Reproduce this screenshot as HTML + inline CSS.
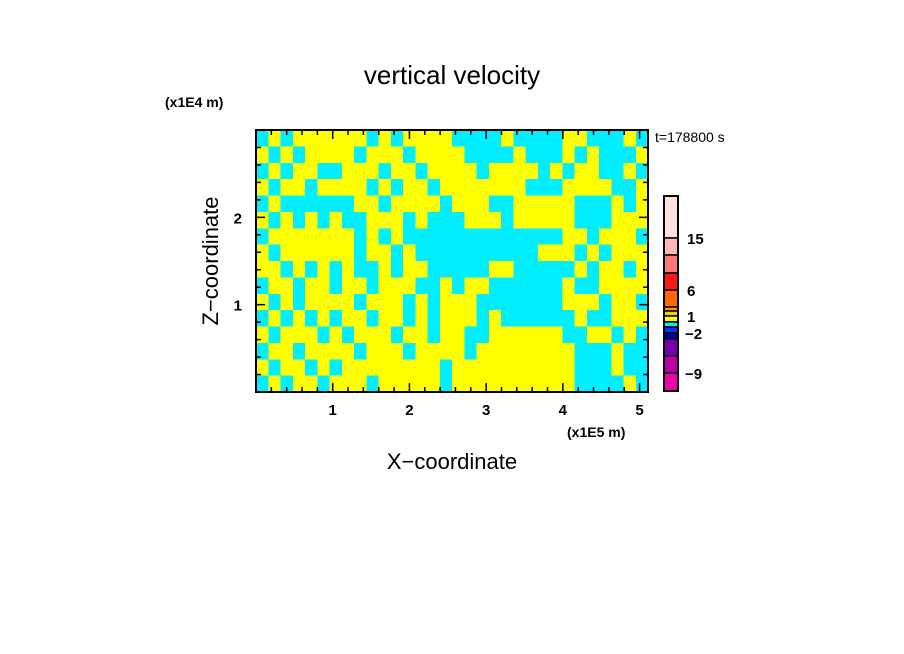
<!DOCTYPE html>
<html><head><meta charset="utf-8"><style>
html,body{margin:0;padding:0;background:#fff;}
svg{display:block;font-family:"Liberation Sans",sans-serif;}
</style></head><body>
<svg id="chart" width="904" height="654" viewBox="0 0 904 654">
<text x="452" y="84" text-anchor="middle" font-size="26">vertical velocity</text>
<text x="165" y="107" font-size="14" font-weight="bold">(x1E4 m)</text>
<text x="567" y="437" font-size="14" font-weight="bold">(x1E5 m)</text>
<text x="452" y="469" text-anchor="middle" font-size="22">X−coordinate</text>
<text transform="translate(218,261) rotate(-90)" text-anchor="middle" font-size="22">Z−coordinate</text>
<text x="655" y="142" font-size="14">t=178800 s</text>
<g id="field" shape-rendering="crispEdges"></g>
<g id="axes"></g>
<g id="cbar"></g>
</svg>
<script>
const xDomain=[0,5.11];
const yDomain=[0,3.0];
const xTicks=[1,2,3,4,5];
const yTicks=[1,2];
const fieldRows=[
"01011111101011110000100001100010",
"10101111011101111000010001010001",
"01011001110110111101111010110010",
"10110111101011011111110001111001",
"01000000110111101110011111000101",
"10101010011101000111011111000111",
"01111111010100000000000001101110",
"10111111011010000000000111010111",
"11010101001011000001100000101101",
"01101101101110010110000001001111",
"10101111011101011100000001110110",
"01010101101101011101000000100111",
"10111010111011011001111110011010",
"01101111011101111011111111000100",
"10110101111111101111111111000100",
"01011011101111101111111111000010"];
const fieldColors=["#00eeff","#ffff00"];
const cbLevels=["15","","","6","","","1","","","-2","","","-9",""];
const cbColors=["#ffe0e0","#ffb8b8","#ff7878","#ff1818","#ff6600","#ff9900","#ffcc00","#ffff00","#00eeff","#0033ff","#0000aa","#7700aa","#bb00aa","#ee00aa"];
const cbSizes=[42,17,18,17,17,4,5,6,5,6,6,17,17,18];

const NS="http://www.w3.org/2000/svg";
const PX0=256,PX1=648,PY0=130,PY1=392;
function sx(v){return PX0+(v-xDomain[0])/(xDomain[1]-xDomain[0])*(PX1-PX0);}
function sy(v){return PY1-(v-yDomain[0])/(yDomain[1]-yDomain[0])*(PY1-PY0);}
function mk(t,a){const e=document.createElementNS(NS,t);for(const k in a)e.setAttribute(k,a[k]);return e;}
const field=document.getElementById('field');
const nr=fieldRows.length,nc=fieldRows[0].length;
const cw=(PX1-PX0)/nc,ch=(PY1-PY0)/nr;
fieldRows.forEach((row,r)=>{
  for(let c=0;c<nc;c++){
    const e=mk('rect',{x:PX0+c*cw,y:PY0+r*ch,width:cw+0.5,height:ch+0.5,fill:fieldColors[+row[c]]});
    
    
    field.appendChild(e);
  }
});
const ax=document.getElementById('axes');
const fr=mk('rect',{x:PX0,y:PY0,width:PX1-PX0,height:PY1-PY0,fill:'none',stroke:'#000','stroke-width':2});


ax.appendChild(fr);
for(let v=0.2;v<xDomain[1];v+=0.2){
  const major=Math.abs(v-Math.round(v))<0.01,L=major?9:5,x=sx(v);
  ax.appendChild(mk('line',{x1:x,x2:x,y1:PY1,y2:PY1-L,stroke:'#000','stroke-width':1.5}));
  ax.appendChild(mk('line',{x1:x,x2:x,y1:PY0,y2:PY0+L,stroke:'#000','stroke-width':1.5}));
}
for(let v=0.2;v<yDomain[1];v+=0.2){
  const major=Math.abs(v-Math.round(v))<0.01,L=major?9:5,y=sy(v);
  ax.appendChild(mk('line',{x1:PX0,x2:PX0+L,y1:y,y2:y,stroke:'#000','stroke-width':1.5}));
  ax.appendChild(mk('line',{x1:PX1,x2:PX1-L,y1:y,y2:y,stroke:'#000','stroke-width':1.5}));
}
xTicks.forEach(v=>{
  const t=mk('text',{x:sx(v),y:PY1+23,'text-anchor':'middle','font-size':15,'font-weight':'bold'});
  t.textContent=v;
  
  
  ax.appendChild(t);
});
yTicks.forEach(v=>{
  const t=mk('text',{x:PX0-14,y:sy(v)+6,'text-anchor':'end','font-size':15,'font-weight':'bold'});
  t.textContent=v;
  
  
  ax.appendChild(t);
});
const cb=document.getElementById('cbar');
let y=196;const CX=664,CW=14;
cbColors.forEach((col,i)=>{
  const h=cbSizes[i];
  const r=mk('rect',{x:CX,y:y,width:CW,height:h,fill:col,stroke:'#000','stroke-width':1.5});
  
  
  cb.appendChild(r);
  y+=h;
  if(cbLevels[i]!==""){
    const t=mk('text',{x:cbLevels[i][0]=='-'?685:687,y:y+6,'font-size':15,'font-weight':'bold'});
    t.textContent=cbLevels[i].replace('-','−');
    
    
    cb.appendChild(t);
  }
});
cb.appendChild(mk('rect',{x:CX,y:196,width:CW,height:y-196,fill:'none',stroke:'#000','stroke-width':2}));
</script>
</body></html>
